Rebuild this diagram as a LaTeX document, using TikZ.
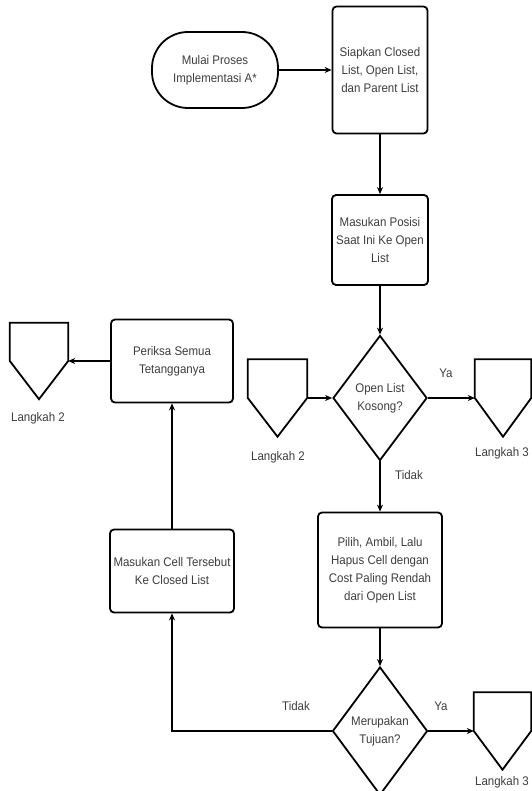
\documentclass[tikz,border=0pt]{standalone}
\usepackage{fontspec}
\setmainfont{Liberation Sans}[FakeStretch=0.92]
\usetikzlibrary{shapes.geometric,arrows.meta,calc}
\definecolor{txt}{HTML}{3d3d3d}
\begin{document}
\begin{tikzpicture}[x=1pt,y=-1pt,
  every node/.style={font=\fontsize{12.5}{18}\selectfont, text=txt, align=center},
  box/.style={draw=black, line width=1.8pt, rounded corners=4pt, inner sep=2pt},
  term/.style={draw=black, line width=1.8pt, rounded corners=36pt, inner sep=2pt},
  dec/.style={draw=black, line width=1.8pt, diamond, inner sep=0pt, aspect=0.75},
  pent/.style={inner sep=0pt},
  conn/.style={line width=1.1pt, -{Stealth[length=7pt,width=6pt]}},
  lbl/.style={font=\fontsize{12.5}{15}\selectfont}
]
\useasboundingbox (0,0) rectangle (531,791);

% main column
\node[term, minimum width=126pt, minimum height=76pt] (start) at (215,70) {Mulai Proses\\Implementasi A*};
\node[box, minimum width=95pt, minimum height=127pt] (b1) at (380,70) {Siapkan Closed\\List, Open List,\\dan Parent List};
\node[box, minimum width=96pt, minimum height=90pt] (b2) at (380,240) {Masukan Posisi\\Saat Ini Ke Open\\List};
\node[dec, minimum width=94pt, minimum height=125pt] (d1) at (380,398) {Open List\\Kosong?};
\node[box, minimum width=124pt, minimum height=115pt] (b3) at (380,570) {Pilih, Ambil, Lalu\\Hapus Cell dengan\\Cost Paling Rendah\\dari Open List};
\node[dec, minimum width=95pt, minimum height=128pt] (d2) at (380,731) {Merupakan\\Tujuan?};

% left column
\node[box, minimum width=122pt, minimum height=83pt] (b5) at (172,361) {Periksa Semua\\Tetangganya};
\node[box, minimum width=124pt, minimum height=83pt] (b4) at (172,571) {Masukan Cell Tersebut\\Ke Closed List};

% off-page connectors (pentagons)
\node[pent, minimum width=58pt, minimum height=76pt] (pL) at (39,361) {};
\node[pent, minimum width=59pt, minimum height=77pt] (pM) at (277.5,398) {};
\node[pent, minimum width=56pt, minimum height=77pt] (pR1) at (503,398) {};
\node[pent, minimum width=57pt, minimum height=77pt] (pR2) at (502.5,731) {};
\foreach \p in {pL,pM,pR1,pR2}{
  \draw[line width=1.8pt, line join=miter] (\p.north west) -- (\p.north east) -- (\p.east) -- (\p.south) -- (\p.west) -- cycle;
}
\node[lbl] (tL) at (38,418) {Langkah 2};
\node[lbl] (tM) at (278,457) {Langkah 2};
\node[lbl] (tR1) at (502,453) {Langkah 3};
\node[lbl] (tR2) at (502,782) {Langkah 3};

% connectors
\draw[conn] (start) -- (b1);
\draw[conn] (b1) -- (b2);
\draw[conn] (b2) -- (d1);
\draw[conn] (pM.east) -- (d1.west);
\draw[conn] (d1.east) -- (pR1.west);
\draw[conn] (d1.south) -- (b3.north);
\draw[conn] (b3) -- (d2);
\draw[conn] (d2.east) -- (pR2.west);
\draw[conn] (d2.west) -| (b4.south);
\draw[conn] (b4.north) -- (b5.south);
\draw[conn] (b5.west) -- (pL.east);

% edge labels
\node[lbl] (ya1) at (446,373) {Ya};
\node[lbl] (ti1) at (409,475) {Tidak};
\node[lbl] (ti2) at (296,706) {Tidak};
\node[lbl] (ya2) at (441,706) {Ya};
\end{tikzpicture}
\end{document}
